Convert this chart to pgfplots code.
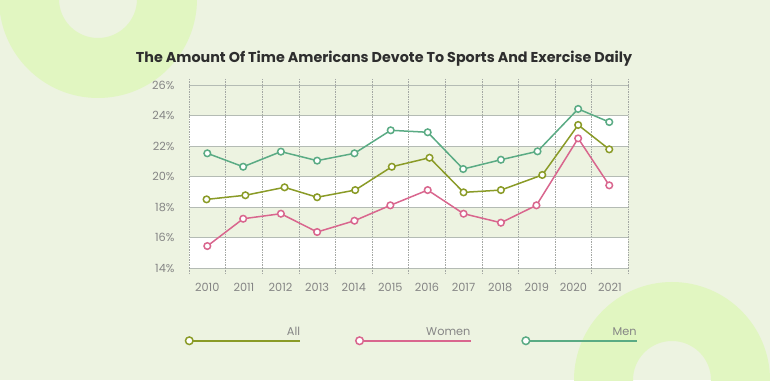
\documentclass[border=0pt]{standalone}
\usepackage{fontspec}
\setmainfont{Poppins}
\usepackage{pgfplots}
\pgfplotsset{compat=1.18}
\definecolor{bg}{HTML}{EDF3E1}
\definecolor{ring}{HTML}{E1F6C1}
\definecolor{cAll}{HTML}{8A9B27}
\definecolor{cWomen}{HTML}{D9668E}
\definecolor{cMen}{HTML}{5AAB84}
\definecolor{gridc}{HTML}{B4BBB4}
\definecolor{vgridc}{HTML}{A4A8A4}
\definecolor{tickc}{HTML}{858585}
\begin{document}
\begin{tikzpicture}[x=1pt,y=1pt]
\fill[bg] (0,0) rectangle (770,380);
\begin{scope}
\clip (0,0) rectangle (770,380);
\fill[ring,even odd rule] (98,381) circle (99) (98,381) circle (39);
\fill[ring,even odd rule] (672,0) circle (98) (672,0) circle (39);
\end{scope}
\fill[white] (189,112) rectangle (628.3,142.5);
\fill[white] (189,173) rectangle (628.3,203.5);
\fill[white] (189,234) rectangle (628.3,264.5);
\useasboundingbox (0,0) rectangle (770,380);
\node[font=\bfseries\fontsize{14.3}{16}\selectfont, text=black!82] at (384,321) {The Amount Of Time Americans Devote To Sports And Exercise Daily};
\begin{axis}[at={(189pt,112pt)}, anchor=south west, scale only axis,
  width=439.3pt, height=183pt,
  xmin=-0.5, xmax=11.5, ymin=14, ymax=26,
  axis line style={draw=none},
  /pgf/number format/assume math mode=true,
  ticklabel style={font=\fontsize{11.3}{13}\selectfont, text=tickc},
  xtick={0,...,11},
  xticklabels={2010,2011,2012,2013,2014,2015,2016,2017,2018,2019,2020,2021},
  minor xtick={-0.5,0.5,...,11.5},
  xminorgrids, minor x grid style={vgridc, dash pattern=on 1.5pt off 1pt, line width=0.5pt},
  ytick={14,16,...,26},
  yticklabel={\pgfmathprintnumber{\tick}\%},
  ymajorgrids, major y grid style={gridc, line width=0.9pt},
  tick align=outside, major tick length=0pt, minor tick length=6pt,
  minor x tick style={vgridc, dash pattern=on 1.5pt off 1pt, line width=0.5pt},
  xticklabel style={yshift=-12pt},
  yticklabel style={xshift=-11pt},
  legend columns=3,
  legend style={at={(-0.0102,-0.4235)}, anchor=south west, draw=none, fill=none,
    inner sep=0pt, nodes={inner sep=0pt},
    /tikz/column 2/.style={column sep=53pt},
    /tikz/column 4/.style={column sep=49pt}},
]
\addplot[forget plot, cAll, line width=1.5pt, mark=*, mark size=3.3pt,
  mark options={fill=white, line width=1.5pt}] coordinates {
(-0.02,18.5) (1.04,18.77) (2.11,19.29) (3.0,18.64) (4.04,19.11) (5.04,20.64)
(6.07,21.23) (7.0,18.96) (8.02,19.11) (9.15,20.1) (10.13,23.38) (10.98,21.78)};
\addplot[forget plot, cWomen, line width=1.5pt, mark=*, mark size=3.3pt,
  mark options={fill=white, line width=1.5pt}] coordinates {
(0,15.44) (0.98,17.23) (2.01,17.56) (3.0,16.36) (4.02,17.1) (5.0,18.11)
(6.02,19.11) (7.0,17.56) (8.02,16.97) (8.99,18.11) (10.13,22.5) (10.98,19.42)};
\addplot[forget plot, cMen, line width=1.5pt, mark=*, mark size=3.3pt,
  mark options={fill=white, line width=1.5pt}] coordinates {
(0,21.52) (0.98,20.64) (2.01,21.63) (3.0,21.04) (4.02,21.52) (5.01,23.03)
(6.02,22.9) (6.99,20.49) (8.02,21.1) (9.02,21.65) (10.13,24.43) (10.98,23.57)};
\addlegendimage{legend image code/.code={
  \draw[cAll, line width=1.5pt] (0pt,0pt)--(111pt,0pt);
  \draw[cAll, line width=1.5pt, fill=white] (0pt,0pt) circle (3.8pt);
  \node[anchor=south east, inner sep=0pt, font=\fontsize{11.3}{13}\selectfont, text=tickc] at (111pt,4pt) {All};}}
\addlegendentry{\hbox{}}
\addlegendimage{legend image code/.code={
  \draw[cWomen, line width=1.5pt] (0pt,0pt)--(111pt,0pt);
  \draw[cWomen, line width=1.5pt, fill=white] (0pt,0pt) circle (3.8pt);
  \node[anchor=south east, inner sep=0pt, font=\fontsize{11.3}{13}\selectfont, text=tickc] at (111pt,4pt) {Women};}}
\addlegendentry{\hbox{}}
\addlegendimage{legend image code/.code={
  \draw[cMen, line width=1.5pt] (0pt,0pt)--(111pt,0pt);
  \draw[cMen, line width=1.5pt, fill=white] (0pt,0pt) circle (3.8pt);
  \node[anchor=south east, inner sep=0pt, font=\fontsize{11.3}{13}\selectfont, text=tickc] at (111pt,4pt) {Men};}}
\addlegendentry{\hbox{}}
\end{axis}
\end{tikzpicture}
\end{document}
